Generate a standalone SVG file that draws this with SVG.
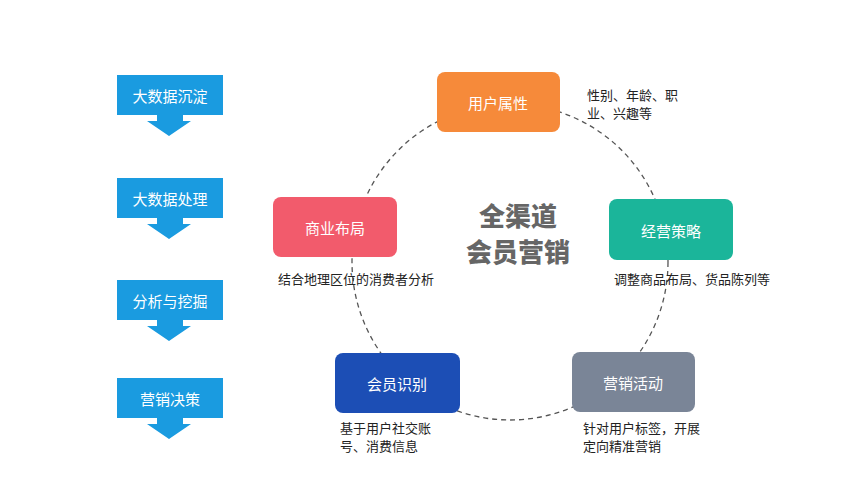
<svg xmlns="http://www.w3.org/2000/svg" width="864" height="486" viewBox="0 0 864 486">
<style>
.l{fill:#1a9be0}
.t{font-family:"Noto Sans CJK SC",sans-serif;font-size:15px;fill:#fff;text-anchor:middle;dominant-baseline:central}
.d{font-family:"Noto Sans CJK SC",sans-serif;font-size:13px;fill:#222}
.n{stroke:none}
</style>
<rect width="864" height="486" fill="#fff"/>
<g id="connectors"><circle cx="510" cy="262" r="158" fill="none" stroke="#555" stroke-width="1.3" stroke-dasharray="5,4"/></g>
<g id="steps">
<g id="s1"><rect class="l" x="117" y="75" width="106" height="40"/><path class="l" d="M157 115h26v6h8l-22 15l-22-15h10z"/><text class="t" x="170" y="95">大数据沉淀</text></g>
<g id="s2"><rect class="l" x="117" y="178" width="106" height="40"/><path class="l" d="M157 218h26v6h8l-22 15l-22-15h10z"/><text class="t" x="170" y="198">大数据处理</text></g>
<g id="s3"><rect class="l" x="117" y="280" width="106" height="40"/><path class="l" d="M157 320h26v6h8l-22 15l-22-15h10z"/><text class="t" x="170" y="300">分析与挖掘</text></g>
<g id="s4"><rect class="l" x="117" y="378" width="106" height="40"/><path class="l" d="M157 418h26v6h8l-22 15l-22-15h10z"/><text class="t" x="170" y="398">营销决策</text></g>
</g>
<g id="n1"><rect x="437" y="72" width="123" height="60" rx="8" fill="#f68a3a"/><text class="t" x="498" y="102">用户属性</text>
<text class="d" x="587" y="100">性别、年龄、职</text><text class="d" x="587" y="118">业、兴趣等</text></g>
<g id="n2"><rect x="609" y="199" width="124" height="61" rx="8" fill="#1bb59a"/><text class="t" x="671" y="230">经营策略</text>
<text class="d" x="614" y="284">调整商品布局、货品陈列等</text></g>
<g id="n3"><rect x="572" y="352" width="123" height="60" rx="8" fill="#7a8597"/><text class="t" x="633" y="382">营销活动</text>
<text class="d" x="583" y="433">针对用户标签，开展</text><text class="d" x="583" y="451">定向精准营销</text></g>
<g id="n4"><rect x="335" y="353" width="125" height="60" rx="8" fill="#1c4eb5"/><text class="t" x="397" y="383">会员识别</text>
<text class="d" x="340" y="433">基于用户社交账</text><text class="d" x="340" y="451">号、消费信息</text></g>
<g id="n5"><rect x="273" y="197" width="124" height="60" rx="8" fill="#f25b6c"/><text class="t" x="335" y="227">商业布局</text>
<text class="d" x="278" y="284">结合地理区位的消费者分析</text></g>
<g id="center" font-family="Noto Sans CJK SC,sans-serif" font-size="26" font-weight="900" fill="#666" text-anchor="middle">
<text x="518" y="226">全渠道</text><text x="518" y="262">会员营销</text></g>
</svg>
